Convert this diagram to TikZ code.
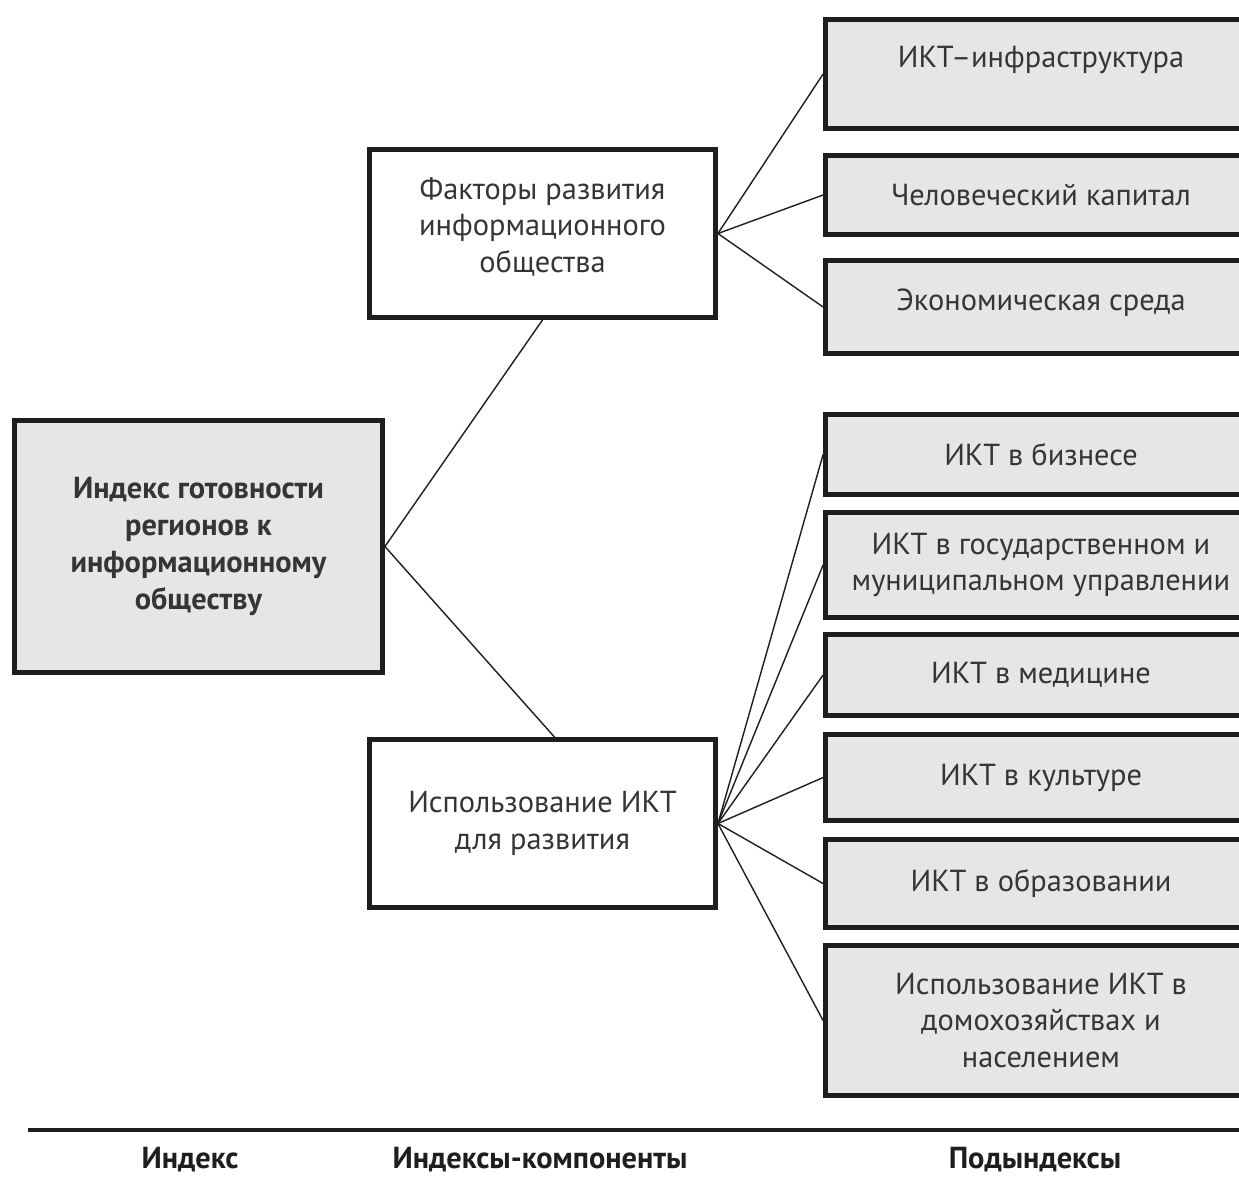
\documentclass[tikz,border=0pt]{standalone}
\usepackage{fontspec}
\setmainfont{PT Sans}
\definecolor{boxgray}{HTML}{E6E6E8}
\definecolor{ink}{HTML}{1E1E1E}
\tikzset{
  box/.style={draw=ink, line width=2.8pt, align=center, text=ink!90,
    font=\fontsize{17.3}{20.8}\selectfont, inner sep=0pt},
  indexbox/.style={box, fill=boxgray, font=\fontsize{17.3}{21.2}\selectfont\bfseries,
    minimum width=7.36cm, minimum height=5.04cm},
  compbox/.style={box, fill=white, minimum width=6.92cm, minimum height=3.36cm},
  subbox/.style={box, fill=boxgray, minimum width=8.62cm},
  link/.style={draw=ink, line width=0.8pt},
  caption/.style={text=ink, font=\fontsize{17.3}{20.8}\selectfont\bfseries}
}
\begin{document}
\begin{tikzpicture}[x=0.02cm,y=-0.02cm]
  \useasboundingbox (0,0) rectangle (1239,1178);
  \clip (0,0) rectangle (1239,1178);

  % index
  \node[indexbox] (index) at (198.5,546.5) {Индекс готовности\\регионов к\\информационному\\обществу};

  % components
  \node[compbox, text depth=10pt] (factors) at (542.5,233.5) {Факторы развития\\информационного\\общества};
  \node[compbox] (usage) at (542.5,823.5) {Использование ИКТ\\для развития};

  % subindices
  \node[subbox, minimum height=2.18cm, text depth=19pt] (infra) at (1041,74) {ИКТ–инфраструктура};
  \node[subbox, minimum height=1.58cm] (human) at (1041,195) {Человеческий капитал};
  \node[subbox, minimum height=1.86cm, text depth=8pt] (econ) at (1041,307) {Экономическая среда};
  \node[subbox, minimum height=1.60cm] (business) at (1041,454.5) {ИКТ в бизнесе};
  \node[subbox, minimum height=2.10cm] (govern) at (1041,565) {ИКТ в государственном и\\муниципальном управлении};
  \node[subbox, minimum height=1.62cm] (medic) at (1041,675) {ИКТ в медицине};
  \node[subbox, minimum height=1.72cm] (culture) at (1041,777.5) {ИКТ в культуре};
  \node[subbox, minimum height=1.76cm] (educ) at (1041,883.5) {ИКТ в образовании};
  \node[subbox, minimum height=3.00cm] (house) at (1041,1020.5) {Использование ИКТ в\\домохозяйствах и\\населением};

  % links
  \draw[link] (index.east) -- (factors.south);
  \draw[link] (index.east) -- ([xshift=0.24cm]usage.north);
  \foreach \s in {infra,human,econ}
    \draw[link] (factors.east) -- (\s.west);
  \foreach \s in {business,govern,medic,culture,educ,house}
    \draw[link] (usage.east) -- (\s.west);

  % levels
  \draw[ink, line width=2pt] (28,1130) -- (1239,1130);
  \node[caption] (capindex) at (190,1160) {Индекс};
  \node[caption] (capcomp) at (540,1160) {Индексы-компоненты};
  \node[caption] (capsub) at (1035,1160) {Подындексы};
\end{tikzpicture}
\end{document}
